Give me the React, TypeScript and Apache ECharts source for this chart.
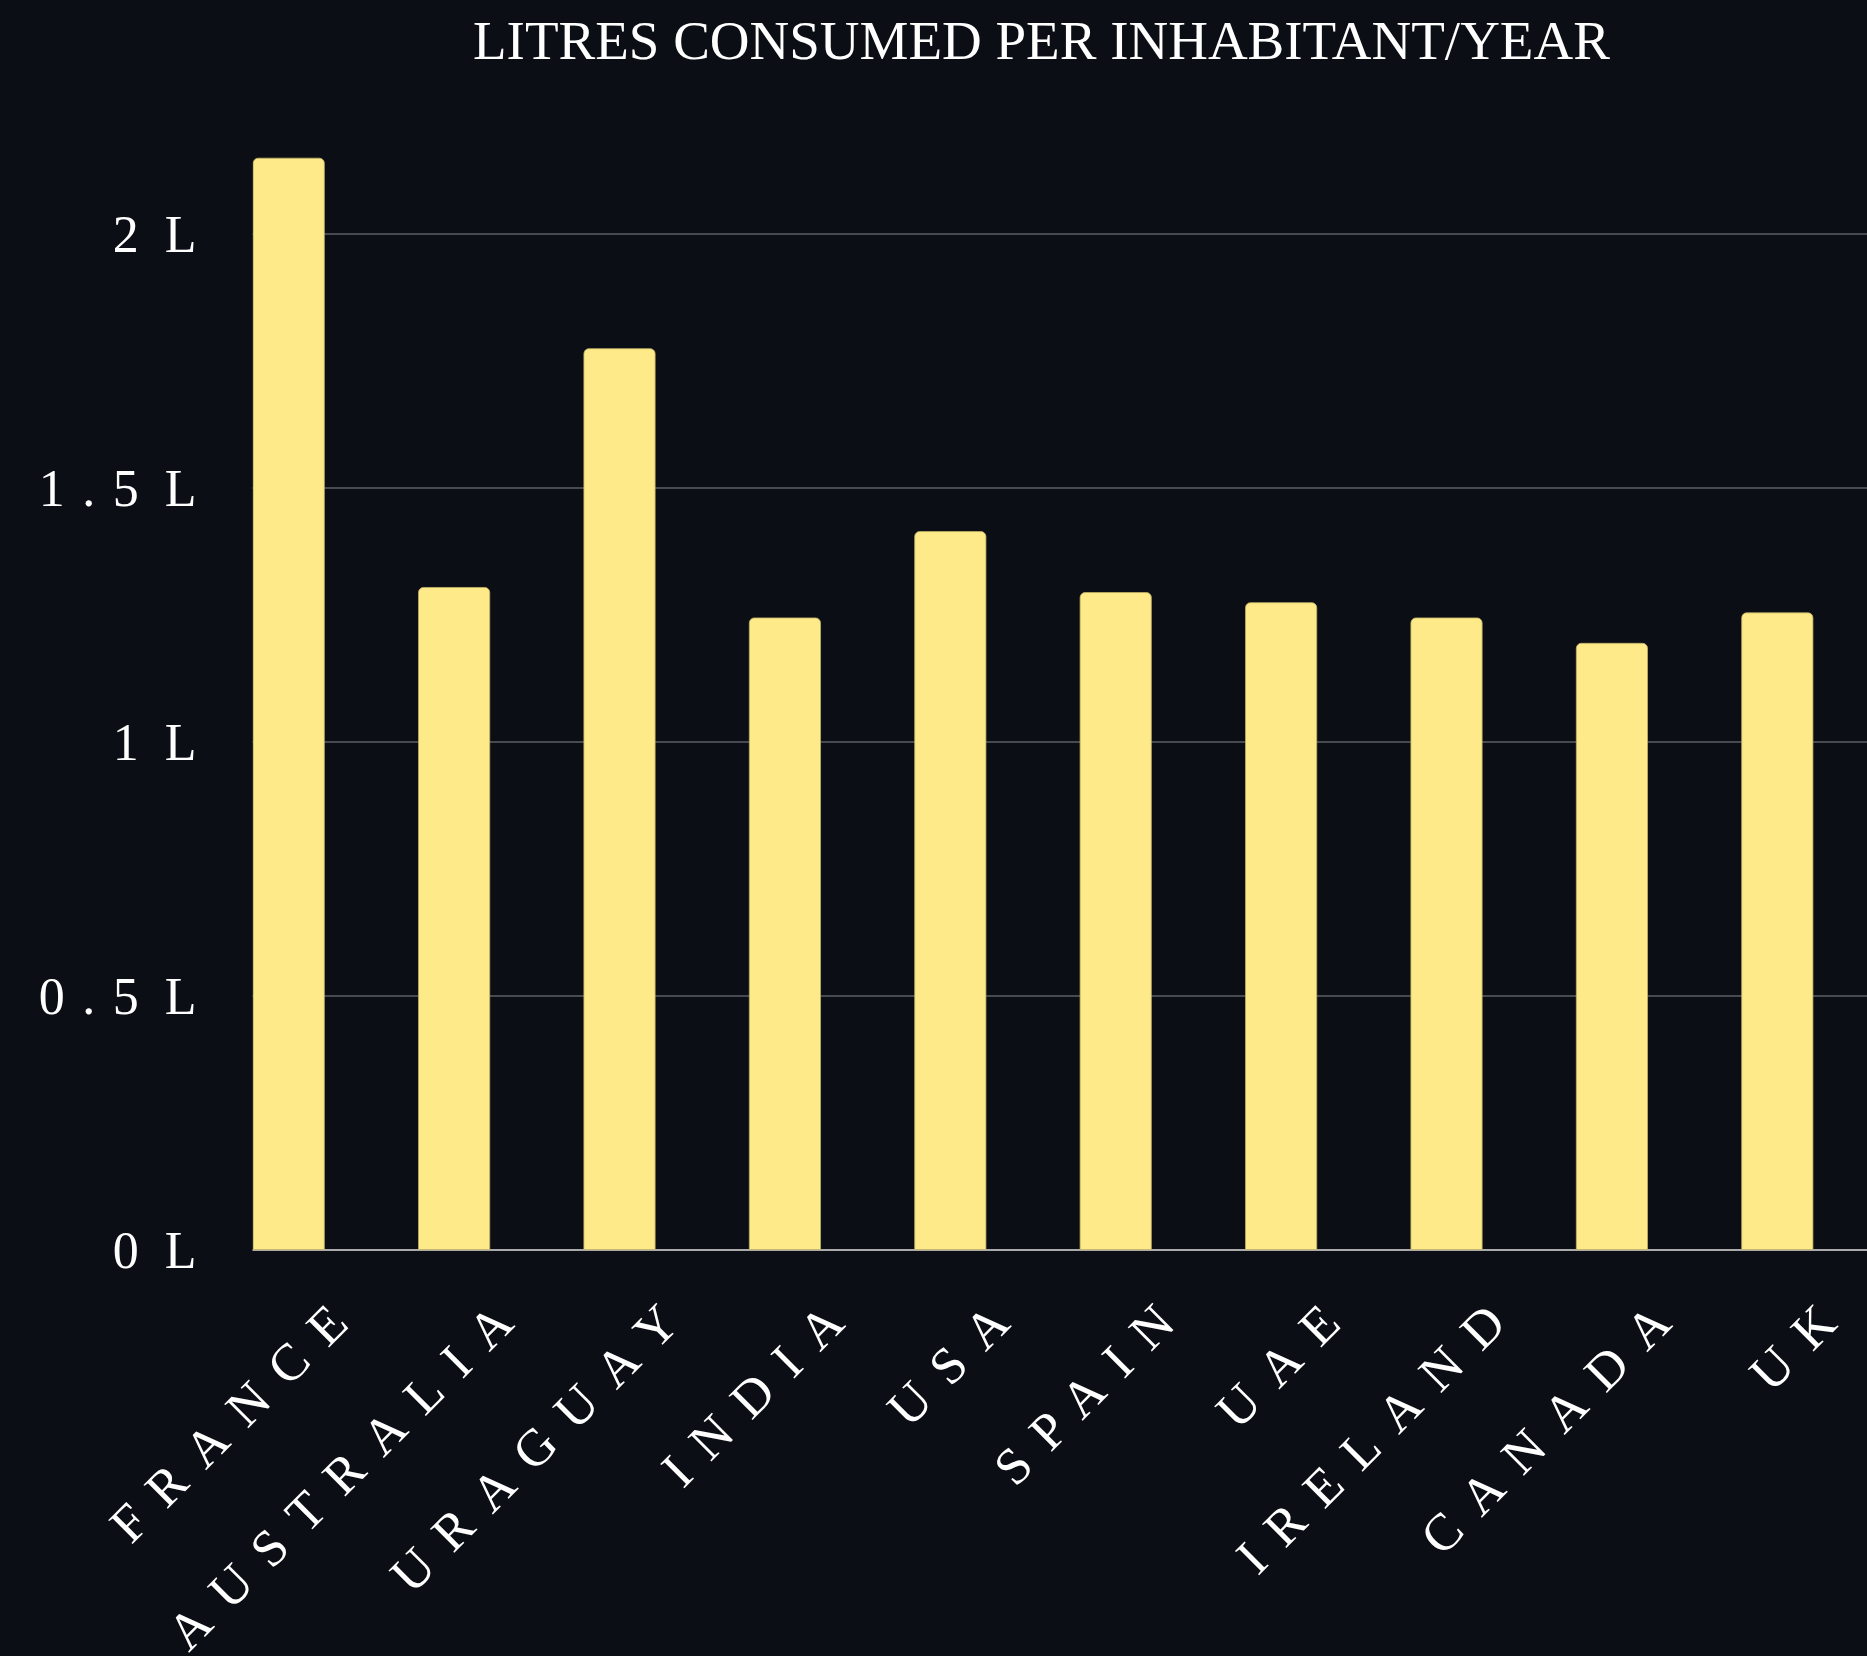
import React, { useEffect, useRef } from "react";
import * as echarts from "echarts";

const countries = ["FRANCE", "AUSTRALIA", "URAGUAY", "INDIA", "USA", "SPAIN", "UAE", "IRELAND", "CANADA", "UK"];
const litresPerInhabitant = [2.15, 1.305, 1.775, 1.245, 1.415, 1.295, 1.275, 1.245, 1.195, 1.255];
const secondSeries = [0, null, null, null, null, null, null, null, null, null];
const yTicks = [0, 0.5, 1, 1.5, 2, 2.5];
const titleText = "LITRES CONSUMED PER INHABITANT/YEAR";

const BG = "#0b0f15";
const BAR = "#ffea89";
const FONT = "'Liberation Serif', 'Times New Roman', serif";

export default function App() {
  const ref = useRef<HTMLDivElement>(null);
  useEffect(() => {
    const el = ref.current!;
    document.body.style.background = BG;
    const chart = echarts.init(el, null, { renderer: "svg" });
    const option: any = {
      animation: false,
      backgroundColor: BG,
      title: {
        text: titleText,
        left: 473,
        top: 113,
        padding: 0,
        textStyle: { color: "#ffffff", fontFamily: FONT, fontSize: 55, fontWeight: "normal" },
      },
      grid: { left: 244, right: 62, top: 80, bottom: 506, containLabel: false },
      xAxis: {
        type: "category",
        data: countries,
        axisLine: { show: true, lineStyle: { color: "#aaaaaa", width: 2 } },
        axisTick: { show: false },
        splitLine: { show: false },
        axisLabel: {
          interval: 0,
          rotate: 45,
          margin: 0,
          color: "#ffffff",
          fontFamily: FONT,
          fontSize: 52,
          verticalAlign: "top",
          align: "right",
          lineHeight: 106,
          padding: [0, 16, 0, 0],
        },
      },
      yAxis: {
        type: "value",
        min: yTicks[0],
        max: yTicks[yTicks.length - 1],
        interval: 0.5,
        axisLine: { show: false },
        axisTick: { show: false },
        splitLine: { show: true, lineStyle: { color: "#474a4f", width: 2 } },
        axisLabel: {
          margin: 30,
          showMaxLabel: false,
          color: "#ffffff",
          fontFamily: FONT,
          fontSize: 52,
          formatter: (v: number) => `${v} L`,
        },
      },
      graphic: [
        {
          type: "rect",
          z: 100,
          shape: { x: 236, y: 60, width: 16.5, height: 1292 },
          style: { fill: BG },
          silent: true,
        },
      ],
      series: [
        {
          name: "Litres per inhabitant",
          type: "bar",
          data: litresPerInhabitant,
          barWidth: 72,
          barGap: "5.5%",
          itemStyle: { color: BAR, borderRadius: [5, 5, 0, 0], borderColor: "#c2b266", borderWidth: 0.8 },
        },
        {
          name: "Other",
          type: "bar",
          data: secondSeries,
          barWidth: 72,
          itemStyle: { color: BAR, borderRadius: [5, 5, 0, 0] },
        },
      ],
    };
    chart.setOption(option);
    const applySpacing = () => {
      el.querySelectorAll("text").forEach((t) => {
        const s = (t.textContent || "").trim();
        if (countries.includes(s)) {
          (t as any).style.letterSpacing = "21px";
        } else if (/ L$/.test(s)) {
          (t as any).style.letterSpacing = "17.5px";
          (t as any).style.wordSpacing = "-22px";
        }
      });
    };
    applySpacing();
    const raf = requestAnimationFrame(applySpacing);
    chart.on("finished", applySpacing);
    return () => {
      cancelAnimationFrame(raf);
      chart.dispose();
    };
  }, []);
  return (
    <div
      ref={ref}
      style={{ position: "fixed", left: 0, top: -100, width: 1960, height: 1856, background: BG }}
    />
  );
}
